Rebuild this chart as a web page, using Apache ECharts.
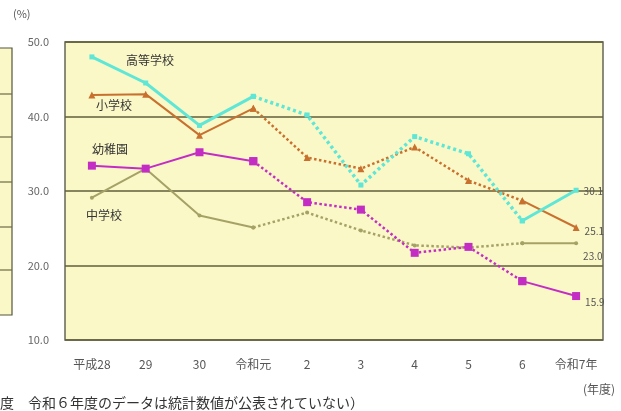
<!DOCTYPE html>
<html><head><meta charset="utf-8">
<script src="https://cdn.jsdelivr.net/npm/echarts@6/dist/echarts.min.js"></script>
<style>html,body{margin:0;padding:0;background:#fff}#c{width:621px;height:411px}</style>
</head><body><div id="c"></div>
<script>
var categories = ['平成28','29','30','令和元','2','3','4','5','6','令和7年'];
var koutou = [48.0, 44.5, 38.8, 42.7, 40.2, 30.8, 37.3, 35.0, 26.0, 30.1];
var shou   = [42.9, 43.0, 37.5, 41.1, 34.5, 33.0, 35.9, 31.4, 28.7, 25.1];
var youchi = [33.4, 33.0, 35.2, 34.0, 28.5, 27.5, 21.7, 22.5, 17.9, 15.9];
var chuu   = [29.1, 33.0, 26.7, 25.1, 27.1, 24.7, 22.7, 22.4, 23.0, 23.0];
var yTicks = [10, 20, 30, 40, 50];
var seriesNames = ['高等学校','小学校','幼稚園','中学校'];

var FONT = '"Noto Sans CJK JP", sans-serif';
var chart = echarts.init(document.getElementById('c'), null, {renderer:'canvas'});

function solidPart(arr, endLabelOffset){
  return arr.map(function(v,i){
    if (i <= 3 || i >= 8) {
      if (i === arr.length-1) return {value:v, label:{show:true, position:'right', offset:endLabelOffset, formatter:function(p){return p.value.toFixed(1);}, color:'#555', fontSize:10, fontFamily:FONT}};
      return v;
    }
    return null;
  });
}
function dottedPart(arr){
  return arr.map(function(v,i){ return (i >= 3 && i <= 8) ? v : null; });
}
function mk(name, arr, color, width, symbol, size, off, dash){
  return [
    {name:name, type:'line', data:solidPart(arr, off), connectNulls:false, symbol:symbol, symbolSize:size,
     lineStyle:{color:color, width:width}, itemStyle:{color:color}, z:3, animation:false},
    {name:name+'_d', type:'line', data:dottedPart(arr), connectNulls:false, symbol:symbol, symbolSize:size,
     lineStyle:{color:color, width:width+0.5, type:dash, cap:'butt'}, itemStyle:{color:color}, z:2, animation:false}
  ];
}
var series = [].concat(
  mk(seriesNames[3], chuu, '#a6a266', 2, 'circle', 4, [0, 13], [2.5, 2.5]),
  mk(seriesNames[2], youchi, '#c42dc4', 2, 'rect', 8, [0, 6], [2.5, 2.5]),
  mk(seriesNames[1], shou, '#c8702e', 2, 'triangle', 7, [0, 4], [2.5, 2.5]),
  mk(seriesNames[0], koutou, '#5ee6d6', 3, 'rect', 5, [0, 1], [3, 3])
);

var leftLines = [94, 137, 182, 227, 270].map(function(y){
  return {type:'line', shape:{x1:0, y1:y, x2:12, y2:y}, style:{stroke:'#6b6b45', lineWidth:1.2}};
});

chart.setOption({
  backgroundColor:'#ffffff',
  textStyle:{fontFamily:FONT},
  grid:{left:65, right:18, top:42, bottom:71, show:true, backgroundColor:'#fbf8c8', borderColor:'#666655', borderWidth:1.5},
  xAxis:{type:'category', data:categories, boundaryGap:true,
    axisLine:{show:false}, axisTick:{show:false},
    axisLabel:{color:'#555', fontSize:12, margin:18, fontFamily:FONT, interval:0}},
  yAxis:{type:'value', min:yTicks[0], max:yTicks[yTicks.length-1], interval:10,
    axisLine:{show:false}, axisTick:{show:false},
    axisLabel:{color:'#666', fontSize:11, margin:16, formatter:function(v){return v.toFixed(1);}, fontFamily:FONT},
    splitLine:{show:true, lineStyle:{color:'#5f5f3a', width:1.5}}},
  series: series,
  graphic:[
    {type:'rect', shape:{x:-5, y:48, width:17, height:267}, style:{fill:'#fbf8c8', stroke:'#55553a', lineWidth:1.2}}
  ].concat(leftLines).concat([
    {type:'text', left:13, top:8, style:{text:'(%)', fill:'#555', fontSize:11, fontFamily:FONT}},
    {type:'text', left:583, top:383, style:{text:'(年度)', fill:'#555', fontSize:12, fontFamily:FONT}},
    {type:'text', left:0, top:396, style:{text:'度　令和６年度のデータは統計数値が公表されていない）', fill:'#333', fontSize:14, fontFamily:FONT}},
    {type:'text', left:126, top:54, style:{text:'高等学校', fill:'#333', fontSize:12, fontFamily:FONT}},
    {type:'text', left:96, top:99, style:{text:'小学校', fill:'#333', fontSize:12, fontFamily:FONT}},
    {type:'text', left:92, top:143, style:{text:'幼稚園', fill:'#333', fontSize:12, fontFamily:FONT}},
    {type:'text', left:86, top:209, style:{text:'中学校', fill:'#333', fontSize:12, fontFamily:FONT}}
  ])
});
</script>
</body></html>
